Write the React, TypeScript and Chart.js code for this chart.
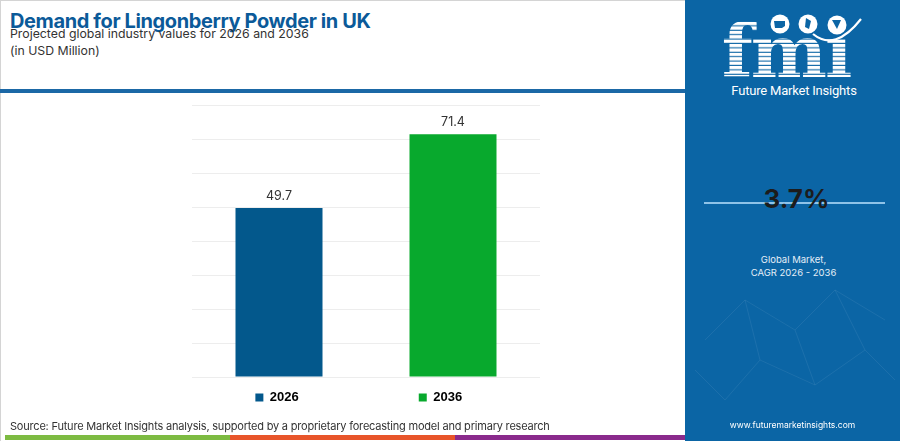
import React, { useEffect, useRef } from "react";
import { Chart, registerables } from "chart.js";

Chart.register(...registerables);

// ---- data ----
const categories = ["2026", "2036"];
const values = [49.7, 71.4];
const barColors = ["#03588c", "#08a92d"];
const yTicks = [0, 10, 20, 30, 40, 50, 60, 70, 80];
const cagrText = "3.7%";
const titleText = "Demand for Lingonberry Powder in UK";
const subtitleText = "Projected global industry values for 2026 and 2036";
const unitText = "(in USD Million)";
const sourceText =
  "Source: Future Market Insights analysis, supported by a proprietary forecasting model and primary research";

const PANEL = "#0b65a5";

const valueLabels = {
  id: "valueLabels",
  afterDatasetsDraw(chart: any) {
    const ctx = chart.ctx;
    const meta = chart.getDatasetMeta(0);
    ctx.save();
    ctx.font = "400 12.5px Inter, 'Liberation Sans', sans-serif";
    ctx.fillStyle = "#333333";
    ctx.textAlign = "center";
    ctx.textBaseline = "middle";
    meta.data.forEach((bar: any, i: number) => {
      ctx.fillText(values[i].toFixed(1), bar.x, bar.y - 12);
    });
    ctx.restore();
  },
};

function BarChart() {
  const ref = useRef<HTMLCanvasElement | null>(null);
  useEffect(() => {
    if (!ref.current) return;
    const pads = [" ".repeat(31), " ".repeat(4)];
    const chart = new Chart(ref.current, {
      type: "bar",
      data: {
        labels: categories,
        datasets: [
          {
            data: values,
            backgroundColor: barColors,
            borderWidth: 0,
            barPercentage: 0.5,
            categoryPercentage: 1,
          },
        ],
      },
      options: {
        animation: false,
        responsive: true,
        maintainAspectRatio: false,
        layout: { padding: { left: 12, right: 12, top: 15, bottom: 6 } },
        plugins: {
          tooltip: { enabled: false },
          legend: {
            display: true,
            position: "bottom",
            onClick: () => {},
            labels: {
              boxWidth: 8,
              boxHeight: 8,
              padding: 8,
              color: "#111111",
              font: { family: "'Liberation Sans', Arial, sans-serif", size: 13, weight: "bold" },
              generateLabels: () =>
                categories.map((c, i) => ({
                  text: c + pads[i],
                  fillStyle: barColors[i],
                  strokeStyle: barColors[i],
                  lineWidth: 0,
                  hidden: false,
                  index: i,
                  datasetIndex: 0,
                })),
            },
          },
        },
        scales: {
          x: {
            display: true,
            ticks: { display: false },
            grid: { display: false, drawTicks: true, tickLength: 6 },
            border: { display: false },
          },
          y: {
            min: yTicks[0],
            max: yTicks[yTicks.length - 1],
            ticks: { display: false, stepSize: yTicks[1] - yTicks[0] },
            grid: { color: "#ededed", lineWidth: 1, drawTicks: false },
            border: { display: false },
          },
        },
      },
      plugins: [valueLabels],
    });
    return () => chart.destroy();
  }, []);
  return (
    <div style={{ position: "absolute", left: 180, top: 90, width: 372, height: 330 }}>
      <canvas ref={ref} />
    </div>
  );
}

function Logo() {
  return (
    <svg
      width={215}
      height={441}
      style={{ position: "absolute", left: 685, top: 0 }}
      xmlns="http://www.w3.org/2000/svg"
    >
      <defs>
        <pattern id="stripes" width="10" height="4.4" patternUnits="userSpaceOnUse">
          <rect x="0" y="0" width="10" height="3.3" fill="#ffffff" />
        </pattern>
      </defs>
      {/* faint network lines */}
      <g stroke="rgba(255,255,255,0.07)" strokeWidth="1" fill="none">
        <path d="M20 340 L60 300 L110 330 L150 290 L200 320" />
        <path d="M40 400 L75 360 L130 385 L180 350" />
        <path d="M60 300 L75 360 M110 330 L130 385 M150 290 L180 350" />
        <path d="M10 370 L40 400 M180 350 L210 380" />
      </g>
      <text
        x={101}
        y={77}
        textAnchor="middle"
        fontFamily="'DejaVu Serif', serif"
        fontWeight="bold"
        fontSize={72}
        letterSpacing={-2}
        fill="url(#stripes)"
      >
        fmı
      </text>
      <circle cx={95} cy={24} r={9.5} fill="#ffffff" />
      <circle cx={123} cy={24} r={9.5} fill="#ffffff" />
      <circle cx={152} cy={25} r={9.5} fill="#ffffff" />
      <path d="M89 21 h11 v5 l-3 2 h-7 z" fill={PANEL} />
      <path d="M121 18 l5 3 l-2 8 l-4 -2 z" fill={PANEL} />
      <path d="M147 20 h9 l-4 9 z" fill={PANEL} />
      <path d="M128 34 Q 150 52 176 19" stroke="#ffffff" strokeWidth={2.2} fill="none" />
    </svg>
  );
}

export default function App() {
  return (
    <div
      style={{
        position: "absolute",
        left: 0,
        top: 0,
        width: 900,
        height: 441,
        background: "#ffffff",
        overflow: "hidden",
        fontFamily: "Inter, 'Noto Sans', sans-serif",
      }}
    >
      <div
        style={{
          position: "absolute",
          left: 0,
          top: 0,
          width: 685,
          height: 441,
          borderTop: "1px solid #d4d4d4",
          borderLeft: "1px solid #d4d4d4",
          boxSizing: "border-box",
        }}
      />
      <div
        style={{
          position: "absolute",
          left: 10,
          top: 9,
          fontSize: 20,
          lineHeight: "24px",
          fontWeight: 700,
          color: "#0b5a99",
          whiteSpace: "nowrap",
          letterSpacing: -0.38,
        }}
      >
        {titleText}
      </div>
      <div
        style={{
          position: "absolute",
          left: 10,
          top: 26,
          fontSize: 12.3,
          lineHeight: "16px",
          color: "#333333",
          whiteSpace: "nowrap",
        }}
      >
        {subtitleText}
      </div>
      <div
        style={{
          position: "absolute",
          left: 10,
          top: 43,
          fontSize: 12.3,
          lineHeight: "16px",
          color: "#333333",
          whiteSpace: "nowrap",
        }}
      >
        {unitText}
      </div>
      <div
        style={{ position: "absolute", left: 0, top: 89, width: 685, height: 4, background: "#1b68a6" }}
      />
      <BarChart />
      <div
        style={{
          position: "absolute",
          left: 10,
          top: 418,
          fontSize: 11,
          lineHeight: "16px",
          color: "#333333",
          whiteSpace: "nowrap",
          letterSpacing: -0.2,
        }}
      >
        {sourceText}
      </div>
      <div style={{ position: "absolute", left: 5, top: 435, width: 225, height: 5, background: "#7dbb42" }} />
      <div style={{ position: "absolute", left: 230, top: 435, width: 225, height: 5, background: "#e8552a" }} />
      <div style={{ position: "absolute", left: 455, top: 435, width: 230, height: 5, background: "#8a2a8c" }} />

      <div style={{ position: "absolute", left: 685, top: 0, width: 215, height: 441, background: PANEL }} />
      <Logo />
      <div
        style={{
          position: "absolute",
          left: 685,
          top: 83,
          width: 215,
          textAlign: "center",
          fontFamily: "Roboto, sans-serif",
          fontSize: 13,
          lineHeight: "16px",
          color: "#ffffff",
          letterSpacing: -0.2,
          paddingLeft: 3,
          boxSizing: "border-box",
        }}
      >
        Future Market Insights
      </div>
      <div style={{ position: "absolute", left: 704, top: 202, width: 181, height: 2, background: "#8fc3e8" }} />
      <div
        style={{
          position: "absolute",
          left: 689,
          top: 183,
          width: 215,
          textAlign: "center",
          fontSize: 26,
          lineHeight: "32px",
          fontWeight: 700,
          color: "#1c1c1c",
        }}
      >
        {cagrText}
      </div>
      <div
        style={{
          position: "absolute",
          left: 686,
          top: 253,
          width: 215,
          textAlign: "center",
          fontSize: 9.5,
          lineHeight: "13px",
          color: "#e4eef7",
        }}
      >
        Global Market,
        <br />
        CAGR 2026 - 2036
      </div>
      <div
        style={{
          position: "absolute",
          left: 685,
          top: 419,
          width: 215,
          textAlign: "center",
          fontSize: 8.5,
          lineHeight: "12px",
          color: "#ffffff",
        }}
      >
        www.futuremarketinsights.com
      </div>
    </div>
  );
}
